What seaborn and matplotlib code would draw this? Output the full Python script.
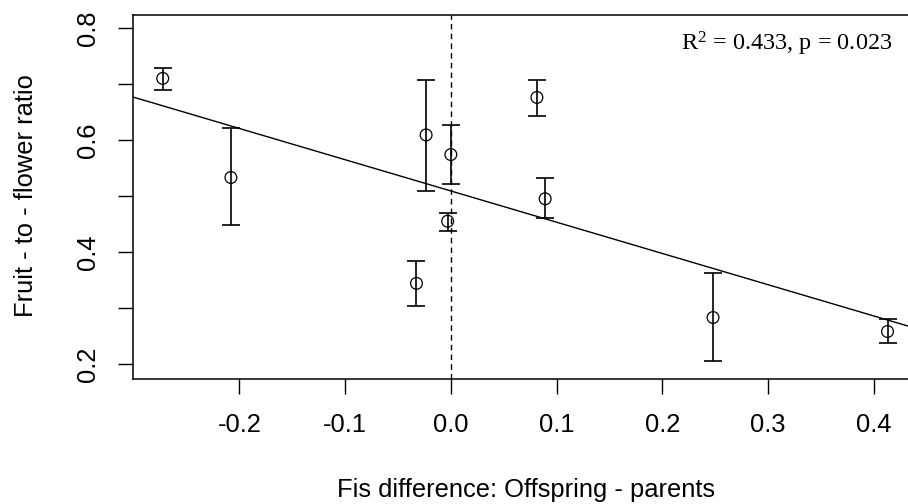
"""Fruit-to-flower ratio against Fis difference, R base-graphics look."""

import matplotlib

matplotlib.use("Agg")
import matplotlib.pyplot as plt
import pandas as pd
import seaborn as sns

FIS_DIFF = [-0.2725, -0.208, -0.0234, 0.0, 0.0814, 0.0892, -0.003, -0.0325, 0.248, 0.413]
RATIO = [0.710, 0.533, 0.609, 0.574, 0.676, 0.495, 0.455, 0.344, 0.283, 0.258]
RATIO_UPPER = [0.728, 0.622, 0.707, 0.626, 0.707, 0.533, 0.469, 0.384, 0.362, 0.280]
RATIO_LOWER = [0.690, 0.449, 0.509, 0.522, 0.643, 0.460, 0.4375, 0.3036, 0.205, 0.237]

FIT_INTERCEPT = 0.509
FIT_SLOPE = -0.558

X_TICKS = [-0.2, -0.1, 0.0, 0.1, 0.2, 0.3, 0.4]
X_TICK_LABELS = ["-0.2", "-0.1", "0.0", "0.1", "0.2", "0.3", "0.4"]
Y_TICKS = [0.2, 0.3, 0.4, 0.5, 0.6, 0.7, 0.8]
Y_TICK_LABELS = ["0.2", "", "0.4", "", "0.6", "", "0.8"]

STATS_LABEL = "R$^{2}$ = 0.433, p = 0.023"

sns.set_style("ticks")
plt.rcParams["font.family"] = ["Liberation Sans", "DejaVu Sans"]
plt.rcParams["mathtext.fontset"] = "custom"
plt.rcParams["mathtext.rm"] = "Liberation Serif"
plt.rcParams["mathtext.it"] = "Liberation Serif:italic"
for key in ("text.color", "axes.labelcolor", "xtick.color", "ytick.color", "axes.edgecolor"):
    plt.rcParams[key] = "black"

frame = pd.DataFrame(
    {
        "fis": FIS_DIFF,
        "ratio": RATIO,
        "upper": RATIO_UPPER,
        "lower": RATIO_LOWER,
    }
)

fig = plt.figure(figsize=(9.08, 5.04), dpi=100)
ax = fig.add_axes([133 / 908, 125 / 504, 782 / 908, 364 / 504])

ax.axvline(0, color="black", linewidth=1.0, linestyle=(0, (4, 3)), zorder=1)
ax.axline((0, FIT_INTERCEPT), slope=FIT_SLOPE, color="black", linewidth=1.0, zorder=1)

ax.errorbar(
    frame["fis"],
    frame["ratio"],
    yerr=[frame["ratio"] - frame["lower"], frame["upper"] - frame["ratio"]],
    fmt="none",
    ecolor="black",
    elinewidth=1.2,
    capsize=6.4,
    capthick=1.2,
    zorder=2,
)
sns.scatterplot(
    data=frame,
    x="fis",
    y="ratio",
    marker="o",
    s=72,
    facecolors="none",
    edgecolor="black",
    linewidth=0.9,
    zorder=3,
    ax=ax,
)

ax.set_xlim(-0.3006, 0.439)
ax.set_ylim(0.1732, 0.8232)
ax.set_xticks(X_TICKS, X_TICK_LABELS)
ax.set_yticks(Y_TICKS, Y_TICK_LABELS)
ax.tick_params(axis="both", length=10.8, width=1.0, color="black", labelcolor="black", labelsize=18.4)
ax.tick_params(axis="x", pad=14)
ax.tick_params(axis="y", pad=13)
plt.setp(ax.get_yticklabels(), rotation=90, va="center")
ax.set_xlabel("")
ax.set_ylabel("")
for spine in ax.spines.values():
    spine.set_linewidth(1.1)
    spine.set_color("black")

fig.text(
    33 / 908,
    1 - 196 / 504,
    "Fruit - to - flower ratio",
    rotation=90,
    rotation_mode="anchor",
    ha="center",
    va="baseline",
    fontsize=18.4,
)
fig.text(
    526 / 908,
    7 / 504,
    "Fis difference: Offspring - parents",
    ha="center",
    va="baseline",
    fontsize=18.4,
)
fig.text(
    892 / 908,
    1 - 50 / 504,
    STATS_LABEL,
    ha="right",
    va="baseline",
    fontsize=17.5,
    family=["Liberation Serif", "DejaVu Serif"],
)

fig.savefig("out.png", dpi=100)
plt.close(fig)
